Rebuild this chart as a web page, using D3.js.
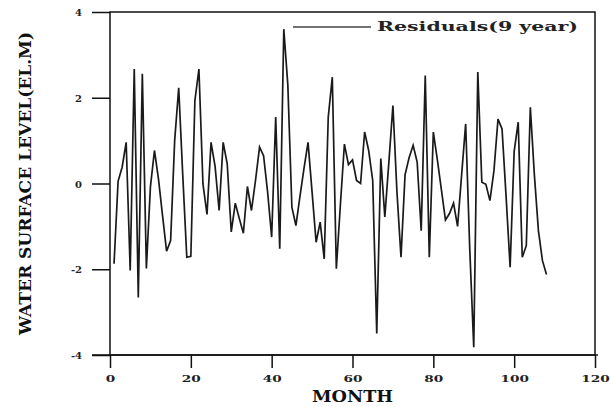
<!DOCTYPE html>
<html>
<head>
<meta charset="utf-8">
<script src="https://cdn.jsdelivr.net/npm/d3@7"></script>
<style>
  body { margin: 0; background: #fff; }
  svg { display: block; }
</style>
</head>
<body>
<svg width="610" height="407"></svg>
<script>
// residuals per month
const months = d3.range(1, 109);
const residuals = [
  -1.87, 0.05, 0.38, 0.96, -2.03, 2.67, -2.66, 2.56, -1.98, -0.08,
  0.77, 0.1, -0.75, -1.58, -1.33, 1.0, 2.23, 0.2, -1.72, -1.70,
  1.93, 2.67, -0.01, -0.72, 0.96, 0.4, -0.63, 0.96, 0.46, -1.13,
  -0.46, -0.82, -1.16, -0.07, -0.63, 0.07, 0.85, 0.65, -0.2, -1.25,
  1.55, -1.52, 3.6, 2.3, -0.55, -0.98, -0.3, 0.35, 0.96, -0.2,
  -1.37, -0.9, -1.76, 1.55, 2.48, -1.99, -0.5, 0.92, 0.44, 0.55,
  0.07, 0.0, 1.2, 0.77, 0.07, -3.5, 0.58, -0.78, 0.5, 1.82,
  -0.2, -1.72, 0.2, 0.6, 0.89, 0.5, -1.1, 2.52, -1.72, 1.2,
  0.55, -0.15, -0.85, -0.7, -0.46, -1.0, 0.2, 1.39, -1.5, -3.82,
  2.6, 0.03, -0.02, -0.4, 0.3, 1.5, 1.27, -0.3, -1.95, 0.75,
  1.43, -1.72, -1.45, 1.78, 0.2, -1.1, -1.8, -2.12
];
const xTicks = [0, 20, 40, 60, 80, 100, 120];
const yTicks = [-4, -2, 0, 2, 4];
const legendLabel = "Residuals(9 year)";

const svg = d3.select("svg");
const font = "'DejaVu Serif', 'Liberation Serif', serif";

const x = d3.scaleLinear().domain([0, 120]).range([110, 595]);
const y = d3.scaleLinear().domain([-4, 4]).range([355, 12]);

// frame
svg.append("rect")
  .attr("x", x(0)).attr("y", y(4))
  .attr("width", x(120) - x(0)).attr("height", y(-4) - y(4))
  .attr("fill", "none").attr("stroke", "#111").attr("stroke-width", 1.5);

// y axis
const gy = svg.append("g")
  .attr("transform", `translate(${x(0)},0)`)
  .call(d3.axisLeft(y).tickValues(yTicks).tickSize(18).tickPadding(10).tickFormat(d3.format("d")));
gy.select(".domain").remove();
gy.selectAll("line").attr("stroke", "#111").attr("stroke-width", 1.5);
gy.selectAll("text")
  .attr("font-family", font).attr("font-weight", "bold").attr("font-size", 10)
  .attr("fill", "#222").attr("dy", "0.35em")
  .text(d => d < 0 ? "-" + Math.abs(d) : d);

// x axis
const gx = svg.append("g")
  .attr("transform", `translate(0,${y(-4)})`)
  .call(d3.axisBottom(x).tickValues(xTicks).tickSize(13).tickPadding(7));
gx.select(".domain").attr("d", `M92,0H598`).attr("stroke", "#111").attr("stroke-width", 1.5);
gx.selectAll("line").attr("stroke", "#111").attr("stroke-width", 1.5);
gx.selectAll("text")
  .attr("font-family", font).attr("font-weight", "bold").attr("font-size", 10)
  .attr("fill", "#222")
  .attr("textLength", d => String(d).length * 9.5)
  .attr("lengthAdjust", "spacingAndGlyphs");

// axis titles
svg.append("text")
  .attr("x", (x(0) + x(120)) / 2).attr("y", 402)
  .attr("text-anchor", "middle")
  .attr("font-family", font).attr("font-weight", "bold").attr("font-size", 17)
  .attr("textLength", 81).attr("lengthAdjust", "spacingAndGlyphs")
  .attr("fill", "#111")
  .text("MONTH");

svg.append("text")
  .attr("transform", `translate(31,${y(0)}) rotate(-90)`)
  .attr("text-anchor", "middle")
  .attr("font-family", font).attr("font-weight", "bold").attr("font-size", 16)
  .attr("textLength", 303).attr("lengthAdjust", "spacingAndGlyphs")
  .attr("fill", "#111")
  .text("WATER SURFACE LEVEL(EL.M)");

// series
const line = d3.line()
  .x((d, i) => x(months[i]))
  .y(d => y(d));

svg.append("path")
  .datum(residuals)
  .attr("fill", "none")
  .attr("stroke", "#1a1a1a")
  .attr("stroke-width", 1.7)
  .attr("d", line);

// legend
svg.append("line")
  .attr("x1", 293).attr("x2", 371).attr("y1", 27).attr("y2", 27)
  .attr("stroke", "#444").attr("stroke-width", 1.3);
svg.append("text")
  .attr("x", 377).attr("y", 31)
  .attr("font-family", font).attr("font-weight", "bold").attr("font-size", 12)
  .attr("textLength", 201).attr("lengthAdjust", "spacingAndGlyphs")
  .attr("fill", "#222")
  .text(legendLabel);
</script>
</body>
</html>
